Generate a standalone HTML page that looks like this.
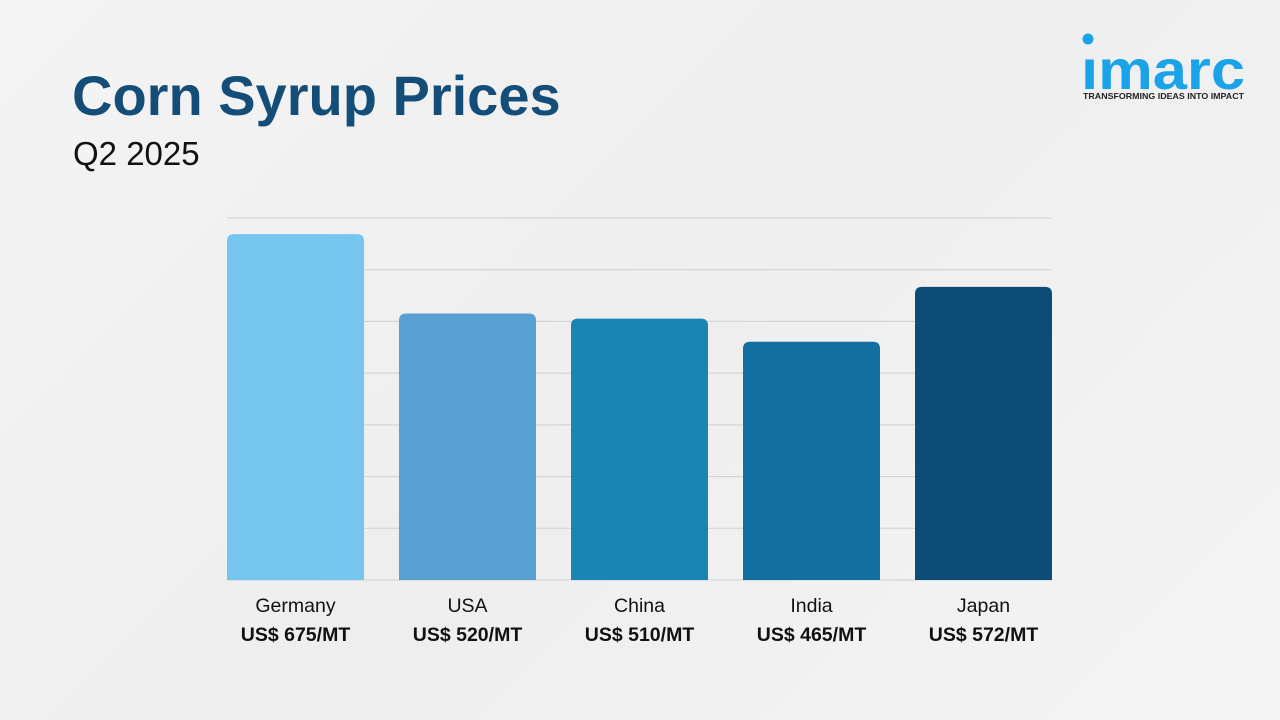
<!DOCTYPE html>
<html><head><meta charset="utf-8"><style>
body{margin:0;width:1280px;height:720px;overflow:hidden;background:linear-gradient(135deg,#f4f4f4,#eeeeee 50%,#f5f5f5);font-family:"Liberation Sans",sans-serif;position:relative}
#title{position:absolute;left:72px;top:64px;font-size:56px;font-weight:bold;color:#134d78;margin:0;line-height:1.15}
#sub{position:absolute;left:73px;top:135px;font-size:33px;color:#111}
#logo{position:absolute;left:1078px;top:28px;width:180px}
</style></head><body>
<h1 id="title">Corn Syrup Prices</h1>
<div id="sub">Q2 2025</div>
<div id="logo">
<svg width="180" height="80"><circle cx="10" cy="11" r="5.5" fill="#1aa3e8"/>
<text x="3" y="61" font-family="Liberation Sans" font-size="56" font-weight="bold" fill="#1aa3e8" textLength="164" lengthAdjust="spacingAndGlyphs">ımarc</text>
<text x="5" y="71" font-family="Liberation Sans" font-size="8.5" font-weight="bold" fill="#222" textLength="161" lengthAdjust="spacingAndGlyphs">TRANSFORMING IDEAS INTO IMPACT</text></svg></div>
<svg id="chart" width="1280" height="720" style="position:absolute;left:0;top:0"></svg>
<script>
const categories=["Germany","USA","China","India","Japan"];
const values=[675,520,510,465,572];
const valueLabels=["US$ 675/MT","US$ 520/MT","US$ 510/MT","US$ 465/MT","US$ 572/MT"];
const colors=["#76c5ef","#58a0d2","#1985b5","#126fa0","#0e4c78"];
const gridTicks=[0,100,200,300,400,500,600,700];
const svg=document.getElementById('chart');const NS="http://www.w3.org/2000/svg";
const base=580,scale=0.5125,x0=227,step=172,bw=137;
const y=v=>base-v*scale;
const gy=t=>base-t*(362/700);
function mk(t,a){const e=document.createElementNS(NS,t);for(const k in a)e.setAttribute(k,a[k]);svg.appendChild(e);return e;}
gridTicks.forEach(t=>{const g=mk('line',{x1:227,x2:1052,y1:gy(t),y2:gy(t),stroke:'#cfcfcf','stroke-width':1});

});
categories.forEach((c,i)=>{const x=x0+i*step,top=y(values[i]),r=7;
const p=mk('path',{d:`M${x},${base}V${top+r}Q${x},${top} ${x+r},${top}H${x+bw-r}Q${x+bw},${top} ${x+bw},${top+r}V${base}Z`,fill:colors[i]});


const t=mk('text',{x:x+bw/2,y:612,'text-anchor':'middle','font-size':19.5,fill:'#111','font-family':'Liberation Sans'});t.textContent=c;


const v=mk('text',{x:x+bw/2,y:641,'text-anchor':'middle','font-size':19.5,'font-weight':'bold',fill:'#111','font-family':'Liberation Sans'});v.textContent=valueLabels[i];

});
</script>
</body></html>
